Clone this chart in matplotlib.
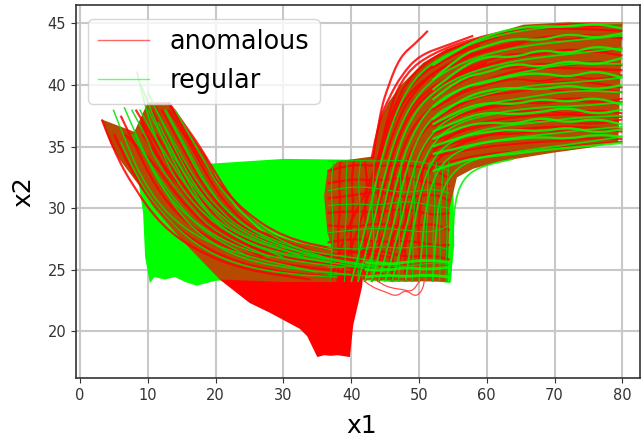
import matplotlib
matplotlib.use("Agg")
import matplotlib.pyplot as plt
from matplotlib.patches import PathPatch
from matplotlib.path import Path

# envelopes of the solid areas
green_area_x = [8.4, 9.3, 9.6, 10.3, 11, 12.5, 14, 15.5, 17.2, 20, 24, 40, 46, 50, 52, 53.4, 54.6, 55.2, 55, 45, 30, 19, 14, 9]
green_area_y = [33, 29.6, 26, 23.9, 24.4, 24.2, 24.4, 24, 23.7, 24.1, 24.2, 24.2, 24, 24, 24.4, 24, 23.9, 27, 34, 33.9, 34, 33.6, 37, 37]
red_area_x = [20.6, 25, 28, 32.4, 33.5, 35, 36, 37, 38, 39.8, 40.3, 41.6, 42, 36, 28]
red_area_y = [24.2, 22.3, 21.5, 20.2, 19.6, 17.9, 18.05, 18, 18.05, 17.9, 20.5, 23.6, 26, 26, 26]
left_mix_x = [3.2, 4.5, 5.9, 8.5, 10.8, 15, 20.6, 30, 38, 38, 37, 32, 26.5, 23, 20.5, 18.6, 13.8, 13.3, 10, 8]
left_mix_y = [37.2, 35.2, 33.9, 32, 30.1, 27.4, 24.2, 24, 24, 26, 26.6, 27.2, 28.2, 30, 32, 34.2, 38, 38.6, 38.6, 36.2]
right_mix_x = [43.2, 44.2, 45.5, 47.2, 50.6, 54, 58, 65.4, 72, 80, 79.4, 75, 69.8, 62, 58, 55.6, 54.5, 54.2, 42, 38, 36.5, 36, 36.5, 38]
right_mix_y = [34.2, 37.2, 38.6, 39.9, 41.8, 42.9, 43.7, 44.9, 45.1, 45, 35.4, 34.9, 34.5, 33.8, 33.2, 32.5, 30, 24, 24.2, 25, 28, 31, 33, 33.8]

# anomalous trajectories
red_left = [
    [(3.2, 37.2), (5, 34.6), (8, 31.6), (12, 28.6), (17, 26.6), (24, 25), (34, 24.2)],
    [(5, 36), (7.5, 33), (11, 30.2), (15, 28), (21, 26), (29, 24.8), (38, 24.4)],
    [(6, 37.5), (9, 34), (12, 31), (16, 28.6), (22, 26.6), (30, 25.4), (40, 24.8)],
    [(9, 37), (12, 33.6), (15.5, 30.4), (20, 28), (26, 26.6), (34, 25.6), (42, 25)],
    [(11, 38.4), (14, 35), (17.5, 31.6), (22, 29), (28, 27.2), (36, 26), (44, 25.6)],
    [(13, 38.6), (16, 35.6), (19.5, 32.6), (24, 29.8), (30, 27.6), (38, 26.6), (46, 26)],
    [(13.3, 38.4), (16.5, 36), (19, 33.8), (22, 31), (26, 28.6), (31, 27), (38, 25.8)],
]
red_right = [
    [(43.2, 34), (44.2, 37.7), (45.5, 40), (47.2, 42.3), (49.5, 43.4), (51.3, 44.4)],
    [(43, 34), (44, 37), (45.6, 39), (47.4, 40.8), (50, 42.4), (54, 43.2), (58, 44)],
    [(37, 24), (39, 28), (42, 31), (44, 34), (46, 38), (49, 41), (54, 42.9), (62, 44.2), (72, 45), (80, 45)],
    [(38, 24), (41, 28), (43.5, 33), (46, 37), (49, 39.8), (55, 42), (63, 43.4), (72, 44.2), (80, 43.8)],
    [(40, 24), (43, 28), (45, 32), (47, 36), (50, 38.8), (56, 41), (65, 42.4), (73, 43), (80, 42.4)],
    [(41, 24), (44, 28), (46, 32), (48, 35.6), (51, 38), (57, 39.8), (65, 41.4), (72, 41.4), (80, 41.2)],
    [(42, 24), (45, 28), (47, 32), (49, 35), (52, 37.2), (58, 39), (66, 40), (73, 40.4), (80, 39.8)],
    [(43, 24), (46, 27), (48, 31), (50, 34.4), (53, 36.8), (58, 38), (66, 38.6), (73, 39), (80, 38.6)],
    [(44, 24), (47, 27), (49, 31), (51, 33.8), (54, 35.8), (59, 37), (67, 37.6), (74, 37.6), (80, 37.4)],
    [(46, 24), (48, 27), (50, 31), (52, 33.6), (55, 35), (60, 36), (67, 36.6), (74, 36.6), (80, 36.4)],
    [(44, 34), (45.5, 38), (48, 41), (52, 42.6), (58, 43.8), (65, 44.6), (73, 44.6), (80, 44.4)],
    [(44.4, 34), (46, 37.6), (48.6, 40), (53, 42), (59, 43.2)],
    [(45, 34), (46.6, 37), (49.4, 39.6), (53, 41.4), (58, 42.6)],
    [(45.6, 34), (47.4, 37), (50, 39), (54, 40.6), (60, 41.8)],
]
red_loops = [
    [(42.1, 24), (43, 23.6), (45, 23.2), (46.7, 22.8), (48, 23.4), (49.7, 22.7), (50.9, 23.8), (50.5, 25)],
    [(43, 24.4), (44.5, 23.8), (46, 23.5), (47.5, 23.4), (49, 23.2), (50, 24)],
]
fan_x = [52, 56, 60, 64, 68, 72, 76, 80]
red_fan = [
    [41.4, 42.8, 43.6, 44.4, 44.6, 44.9, 44.7, 45],
    [40.6, 42, 42.8, 43.2, 43.9, 43.6, 44.1, 43.8],
    [39.8, 41.2, 42, 42.6, 42.4, 43, 42.6, 43],
    [39, 40.2, 41.2, 41.4, 41.8, 41.5, 42, 41.6],
    [38, 39.4, 40, 40.6, 40.2, 40.8, 40.4, 40.8],
    [37.4, 38.6, 39.2, 39.4, 39.8, 39.4, 39.8, 39.4],
    [36.6, 37.8, 38.2, 38.8, 38.4, 38.9, 38.5, 38.9],
    [36, 37, 37.6, 37.8, 38, 37.6, 38, 37.7],
    [35.4, 36.2, 36.8, 37, 37.2, 37, 36.8, 37.2],
    [34.8, 35.4, 36, 36, 36.3, 36.2, 36.4, 36.2],
    [34.2, 34.6, 35, 35.2, 35.4, 35.5, 35.7, 35.6],
    [33.4, 34, 34.4, 34.6, 34.8, 35, 35.2, 35.4],
]
# rows shorter than left_y start lower down the bundle
left_y = [38, 36, 34, 32, 30, 28, 26]
red_left_x = [
    [6.6, 10.4, 13, 15.8, 19.6, 27],
    [9.2, 11.6, 14.4, 17, 20.8, 29],
    [8.2, 10.4, 12.6, 15, 17.8, 22, 31],
    [11.2, 13.6, 16, 18.8, 23, 32],
    [10.6, 12.4, 14.6, 17, 19.8, 24, 34],
    [12, 14, 16, 18, 20.8, 25, 35],
    [13, 15.4, 17.4, 19.4, 22, 26, 37],
]
hatch_x = [36.5, 40, 44, 48, 52, 54.5]
red_hatch = [
    [33, 33.6, 33.4, 33.5, 33.2, 32.4],
    [32, 32.4, 32.2, 32.5, 32, 31.8],
    [30.8, 31, 31.4, 30.8, 31.2, 30.6],
    [29.6, 29.8, 29.6, 30, 29.4, 29.6],
    [28.6, 28.4, 28.8, 28.4, 28.8, 28.2],
    [27.2, 27.6, 27.2, 27.4, 27, 27],
    [26.2, 26.4, 26.6, 26, 26.2, 25.8],
]
hatch_y = [24, 26, 28, 30, 32, 33.8]
red_hatch_x = [
    [38, 38.2, 38, 38.4, 38.2, 38.4],
    [40, 40.2, 39.8, 40.4, 40, 40.4],
    [42, 41.8, 42.2, 42, 42.4, 42],
    [44, 44.4, 44, 44.2, 43.8, 44.2],
    [46, 46.2, 45.8, 46.2, 46, 46.4],
    [48, 47.8, 48.2, 48, 48.4, 48],
    [50, 50.2, 49.8, 50.2, 50.4, 50.6],
]

# regular trajectories
green_left = [
    [(4.9, 38), (7, 35), (9.5, 32), (13, 29.4), (18, 27.4), (25, 26), (35, 24.8)],
    [(6.5, 38.2), (9, 35), (12, 31.6), (16, 29.2), (22, 27), (30, 25.8), (39, 25.2)],
    [(8.4, 41.1), (9.6, 38), (12, 34.6), (15, 31.4), (20, 28.6), (27, 26.6), (37, 25.6)],
    [(9, 40), (11.5, 36.4), (14.5, 33), (18, 29.8), (24, 27.6), (32, 26.2), (42, 25.4)],
    [(10, 39.4), (13, 36), (16, 32.6), (20, 29.6), (26, 27.4), (34, 26.2), (44, 25.2)],
    [(8, 36), (10.5, 33.4), (14, 30), (18, 27.6), (24, 25.8), (32, 25), (40, 24.6)],
    [(11.5, 37), (14.5, 33.6), (18, 30.2), (22, 27.8), (29, 26.2), (37, 25.6), (45, 24.8)],
    [(6, 35.4), (8.4, 32.4), (12, 29.6), (17, 27), (23, 25.4), (31, 24.6), (38, 24.4)],
    [(12.5, 38), (16, 34.2), (19.5, 31), (24, 28.6), (30, 26.8), (38, 25.6), (46, 25)],
    [(14, 38), (17.5, 34.6), (21, 31.2), (26, 28.6), (32, 26.6), (40, 26), (47, 25.4)],
]
green_right = [
    [(40, 24), (42, 28), (44, 33), (46, 37), (49, 40.5), (54, 42.6), (62, 44.2), (72, 44.9), (80, 45)],
    [(41, 24), (43, 28), (45, 33), (47, 36.5), (50, 39.5), (55, 41.6), (63, 43), (72, 43.6), (80, 44)],
    [(42, 24), (44, 28), (46, 33), (48, 36.5), (51, 39), (56, 40.8), (64, 42), (72, 42.5), (80, 43)],
    [(43, 24), (45, 28), (47, 33), (49, 36), (52, 38.5), (57, 40), (65, 41), (72, 41.8), (80, 41.7)],
    [(44, 24), (46, 28), (48, 33), (50, 36), (53, 38), (58, 39), (66, 40), (73, 40.2), (80, 40.6)],
    [(45, 24), (47, 28), (49, 33), (51, 35.5), (54, 37.2), (59, 38.4), (66, 39), (73, 39.6), (80, 39.4)],
    [(46, 24), (48, 28), (49.5, 32), (51.5, 35), (55, 36.8), (60, 37.6), (67, 38.2), (74, 38.3), (80, 38.6)],
    [(48, 24), (49, 28), (50.5, 32), (52.5, 34.5), (56, 35.8), (61, 36.6), (68, 37), (74, 37.4), (80, 37.5)],
    [(50, 24), (50.5, 28), (51.5, 31.5), (53.5, 33.8), (57, 35), (62, 35.6), (69, 36), (75, 36.4), (80, 36.6)],
    [(52, 24), (52.5, 28), (53, 31), (55, 33), (58, 34), (63, 34.5), (70, 35), (75, 35.4), (80, 35.8)],
    [(54.6, 24), (55, 28), (55.3, 30.6), (56.5, 32.4), (59, 33.4), (64, 34)],
]
green_fan = [
    [41.6, 43, 44, 44.6, 44.8, 44.7, 45, 44.6],
    [40.4, 42.4, 43.2, 43.8, 43.6, 44.2, 43.8, 44.2],
    [39.6, 41.4, 42.4, 42.2, 42.9, 42.5, 43.2, 42.8],
    [38.8, 40.6, 41, 41.8, 41.4, 42, 41.6, 42.2],
    [38.2, 39.8, 40.2, 40.8, 41, 40.6, 41.2, 40.6],
    [37.2, 38.8, 39.6, 39.8, 39.6, 40, 39.6, 40],
    [36.8, 38, 38.6, 38.4, 38.9, 38.6, 39, 38.4],
    [36.2, 37.2, 37.8, 37.6, 37.8, 38.2, 37.6, 38],
    [35.6, 36.6, 37, 36.8, 37.4, 36.9, 37.3, 36.8],
    [35, 35.8, 36.2, 36.4, 36.2, 36.6, 36.1, 36.4],
    [34.4, 34.9, 35.4, 35.6, 35.8, 35.6, 36, 35.8],
    [33, 33.8, 34.2, 34.4, 34.7, 34.9, 35.1, 35.3],
]
green_left_x = [
    [7.6, 9.8, 12.2, 15, 18.4, 25],
    [7.6, 9.6, 11, 13.6, 16.4, 20, 28],
    [8.8, 10.8, 13, 15.4, 18.2, 21.4, 30],
    [10, 11.8, 14, 16.4, 19.2, 22.8, 33],
    [11.2, 13.2, 15.2, 17.4, 20.2, 24.4, 35],
    [12.6, 14.6, 16.6, 18.6, 21.2, 25.4, 36],
]
green_hatch = [
    [33.8, 33.9, 33.8, 33.9, 33.6, 33],
    [31.4, 31.8, 31.6, 31.2, 31.6, 31.2],
    [30.2, 30.4, 30.2, 30.6, 30.2, 30],
    [28, 28.2, 28.4, 28.2, 28, 28.6],
    [26.8, 26.6, 26.9, 26.7, 27, 26.6],
    [25.2, 25.2, 25.4, 25.2, 25.6, 25.4],
    [24.6, 24.6, 24.4, 24.6, 24.4, 24.6],
]
green_hatch_x = [
    [37, 37, 37.4, 37.2, 37, 37.4],
    [39, 39.2, 39, 39.4, 39.2, 39.4],
    [41, 41.2, 41, 41.4, 41, 41.4],
    [43, 43.2, 43.4, 43, 43.2, 43.4],
    [47, 47.2, 47, 47.4, 47.2, 47.4],
    [49, 49.2, 49, 49.4, 49.2, 49.4],
    [51, 51.2, 51, 51.4, 51.2, 51.6],
    [52, 52.2, 52, 52.4, 52.2, 52.6],
    [53, 53.2, 53, 53.2, 53.4, 53.6],
    [54, 54, 54.2, 54, 54.2, 54.4],
]
green_low_x = [42, 45, 48, 51, 54.5]
green_low = [
    [24.4, 24.6, 24.4, 24.6, 24.4],
    [25, 24.9, 25.2, 25, 25.2],
    [25.6, 25.4, 25.6, 25.8, 25.6],
]

plt.rcParams["font.family"] = "DejaVu Sans"
fig = plt.figure(figsize=(6.41, 4.38), dpi=100)
ax = fig.add_axes([76 / 641, 1 - 378 / 438, (640 - 76) / 641, (378 - 5) / 438])

ax.grid(True, color="#c8c8c8", lw=1.5, zorder=0)
ax.set_axisbelow(True)

ax.fill(green_area_x, green_area_y, color="#00ff00", lw=0, zorder=2)
ax.fill(red_area_x, red_area_y, color="#ff0000", lw=0, zorder=2)
ax.fill(left_mix_x, left_mix_y, color="#b54a00", lw=0, zorder=2)
ax.fill(right_mix_x, right_mix_y, color="#b54a00", lw=0, zorder=2)


def draw(xs, ys, color, lw, alpha=0.85):
    # smooth line through the read points
    verts = [(xs[0], ys[0])]
    codes = [Path.MOVETO]
    for i in range(1, len(xs) - 1):
        verts += [(xs[i], ys[i]), ((xs[i] + xs[i + 1]) / 2, (ys[i] + ys[i + 1]) / 2)]
        codes += [Path.CURVE3, Path.CURVE3]
    verts.append((xs[-1], ys[-1]))
    codes.append(Path.LINETO)
    ax.add_patch(PathPatch(Path(verts, codes), fill=False, edgecolor=color, lw=lw, alpha=alpha, zorder=3))


def draw_pairs(rows, color, lw):
    for row in rows:
        draw([p[0] for p in row], [p[1] for p in row], color, lw)


draw_pairs(red_left, "#ff0000", 1.6)
draw_pairs(red_right, "#ff0000", 1.6)
draw_pairs(red_loops, "#ff3030", 0.9)
for row in red_left_x:
    draw(row, left_y[-len(row):], "#ff0000", 1.6)
for row in red_hatch:
    draw(hatch_x, row, "#ff0000", 1.6)
for row in red_hatch_x:
    draw(row, hatch_y, "#ff0000", 1.6)
for row in red_fan:
    draw(fan_x, row, "#ff0000", 1.4)

draw_pairs(green_left, "#00e000", 1.1)
draw_pairs(green_right, "#00f000", 1.3)
for row in green_left_x:
    draw(row, left_y[-len(row):], "#00d800", 1.1)
for row in green_hatch:
    draw(hatch_x, row, "#00d800", 0.9)
for row in green_hatch_x:
    draw(row, hatch_y, "#00d800", 0.9)
for row in green_fan:
    draw(fan_x, row, "#00ff00", 1.7)
for row in green_low:
    draw(green_low_x, row, "#00ff00", 2.0)

ax.plot([], [], color="#ff0000", lw=1, alpha=0.6, label="anomalous")
ax.plot([], [], color="#00ff00", lw=1, alpha=0.6, label="regular")

ax.set_xlim(-0.6, 82.6)
ax.set_ylim(16.2, 46.5)
ax.set_xticks(range(0, 81, 10))
ax.set_yticks(range(20, 46, 5))
ax.tick_params(labelsize=10.5, colors="#333333", length=3.5)
ax.set_xlabel("x1", fontsize=18, labelpad=8, x=0.507)
ax.set_ylabel("x2", fontsize=18, labelpad=9)
ax.legend(loc="upper left", fontsize=18.4, bbox_to_anchor=(0.012, 0.977), borderaxespad=0.2)

for s in ax.spines.values():
    s.set_color("#333333")
    s.set_linewidth(1.2)

fig.savefig("out.png", dpi=100)
